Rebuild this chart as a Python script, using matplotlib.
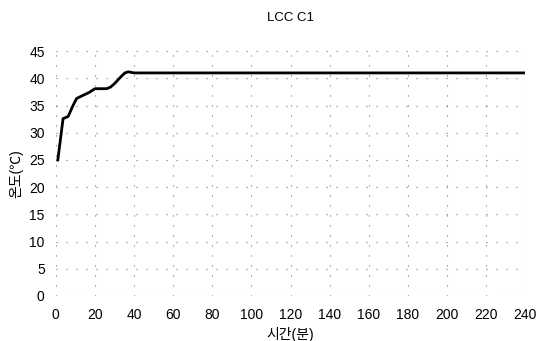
import matplotlib
matplotlib.use('Agg')
import matplotlib.pyplot as plt

plt.rcParams['font.family'] = ['Liberation Sans', 'Noto Sans CJK KR', 'DejaVu Sans']

# time (min) and temperature
time_min = [1, 3.7, 6.3, 8.5, 10.6, 14, 17, 20, 26, 28, 30.2, 33, 35.3, 37, 40, 60, 100, 140, 180, 220, 240]
temp_c = [25, 32.6, 33.0, 34.8, 36.3, 36.9, 37.4, 38.1, 38.1, 38.4, 39.1, 40.2, 41.0, 41.2, 41.0, 41.0, 41.0, 41.0, 41.0, 41.0, 41.0]
x_ticks = list(range(0, 241, 20))
y_ticks = list(range(0, 46, 5))

fig = plt.figure(figsize=(5.37, 3.41), dpi=100)
ax = fig.add_axes([0.104, 0.132, 0.874, 0.718])
ax.plot(time_min, temp_c, color='black', linewidth=2.0)

ax.set_xlim(0, 240)
ax.set_ylim(0, 45)
ax.set_xticks(x_ticks)
ax.set_yticks(y_ticks)
ax.tick_params(axis='y', length=0, labelsize=10, pad=8)
ax.tick_params(axis='x', length=0, labelsize=10, pad=9)
ax.grid(True, linestyle=(0, (1, 8)), color='#777777', linewidth=0.8)
for s in ax.spines.values():
    s.set_visible(False)

ax.set_title('LCC C1', fontsize=9.5, pad=22)
ax.set_xlabel('시간(분)', fontsize=10, labelpad=3)
ax.set_ylabel('온도(℃)', fontsize=10)

fig.savefig('out.png', dpi=100)
